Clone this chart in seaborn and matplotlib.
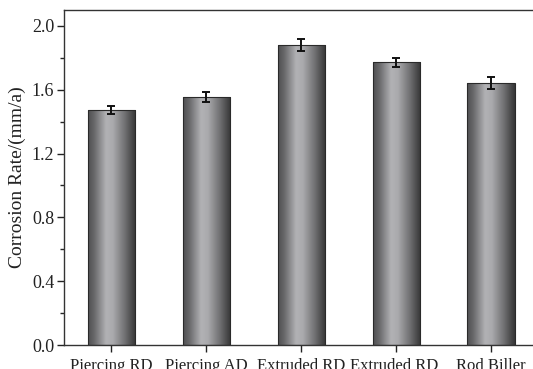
import matplotlib

matplotlib.use("Agg")

import matplotlib.pyplot as plt
import numpy as np
import pandas as pd
import seaborn as sns
from matplotlib.colors import LinearSegmentedColormap
from matplotlib.ticker import MultipleLocator

samples = ["Piercing RD", "Piercing AD", "Extruded RD", "Extruded RD ", "Rod Biller"]
rates = [1.47, 1.555, 1.88, 1.772, 1.642]
errors = [0.025, 0.03, 0.04, 0.03, 0.04]

sns.set_theme(style="ticks")
plt.rcParams["font.family"] = ["Liberation Serif", "DejaVu Serif"]

frame = pd.DataFrame({"sample": samples, "rate": rates})

fig = plt.figure(figsize=(5.33, 3.69), dpi=100)
ax = fig.add_axes([0.120, 0.065, 0.88, 0.908])

sns.barplot(
    data=frame,
    x="sample",
    y="rate",
    width=0.5,
    color="#888888",
    edgecolor="#2a2a2a",
    linewidth=0.8,
    errorbar=None,
    ax=ax,
)

# cylinder-like grey shading inside each bar
shade = LinearSegmentedColormap.from_list(
    "cyl",
    [
        (0.0, "#505052"),
        (0.12, "#656567"),
        (0.38, "#b2b2b5"),
        (0.52, "#aaaaad"),
        (0.78, "#6e6e70"),
        (0.92, "#49494a"),
        (1.0, "#363637"),
    ],
)
gradient = np.linspace(0, 1, 256).reshape(1, -1)
for patch in ax.patches:
    x0, y0 = patch.get_x(), patch.get_y()
    w, h = patch.get_width(), patch.get_height()
    img = ax.imshow(
        gradient,
        cmap=shade,
        extent=[x0, x0 + w, y0, y0 + h],
        aspect="auto",
        zorder=patch.get_zorder() + 0.1,
        interpolation="bicubic",
    )
    img.set_clip_path(patch)
    patch.set_facecolor("none")
    patch.set_zorder(patch.get_zorder() + 0.2)

centers = [p.get_x() + p.get_width() / 2 for p in ax.patches]
ax.errorbar(
    centers,
    rates,
    yerr=errors,
    fmt="none",
    ecolor="#111111",
    elinewidth=1.4,
    capsize=3,
    capthick=1.4,
    zorder=5,
)

ax.set_xlim(-0.5, 4.44)
ax.set_ylim(0, 2.1)
ax.yaxis.set_major_locator(MultipleLocator(0.4))
ax.yaxis.set_minor_locator(MultipleLocator(0.2))
ax.yaxis.set_major_formatter(plt.FormatStrFormatter("%.1f"))
ax.tick_params(axis="both", which="major", direction="out", length=5, width=1,
               colors="#222222", pad=2)
ax.tick_params(axis="y", which="major", labelsize=13)
ax.tick_params(axis="x", which="major", labelsize=12, pad=4)
ax.tick_params(axis="y", which="minor", direction="out", length=3, width=1)
ax.set_xlabel("")
ax.set_ylabel("Corrosion Rate/(mm/a)", fontsize=14, color="#222222", labelpad=4)

for side in ["left", "bottom", "top"]:
    ax.spines[side].set_color("#333333")
    ax.spines[side].set_linewidth(1.0)
ax.spines["right"].set_visible(False)

fig.savefig("out.png", dpi=100)
